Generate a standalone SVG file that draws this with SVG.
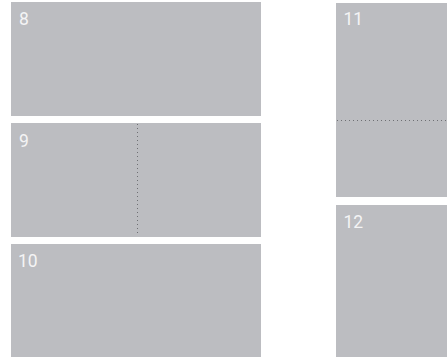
<svg xmlns="http://www.w3.org/2000/svg" width="447" height="357" viewBox="0 0 447 357">
<style>
.box{fill:#bcbdc1}
.lbl{fill:#f4f4f5;font-family:Roboto,"Liberation Sans",sans-serif;font-weight:400;font-size:17.5px}
.div{stroke:#6e6f73;stroke-width:1;stroke-dasharray:1 3;fill:none}
</style>
<rect width="447" height="357" fill="#ffffff"/>
<g id="n8"><rect class="box" x="11" y="2" width="250" height="114"/><text class="lbl" x="19" y="25">8</text></g>
<g id="n9"><rect class="box" x="11" y="123" width="250" height="114"/><text class="lbl" x="19" y="147">9</text></g>
<g id="n10"><rect class="box" x="11" y="244" width="250" height="113"/><text class="lbl" x="18" y="267">10</text></g>
<g id="n11"><rect class="box" x="336" y="3" width="111" height="194"/><text class="lbl" x="343.5" y="25">11</text></g>
<g id="n12"><rect class="box" x="336" y="205" width="111" height="152"/><text class="lbl" x="343.5" y="227.5">12</text></g>
<g id="connectors">
<line class="div" x1="137.5" y1="124" x2="137.5" y2="236"/>
<line class="div" x1="337" y1="120.5" x2="447" y2="120.5"/>
</g>
</svg>
